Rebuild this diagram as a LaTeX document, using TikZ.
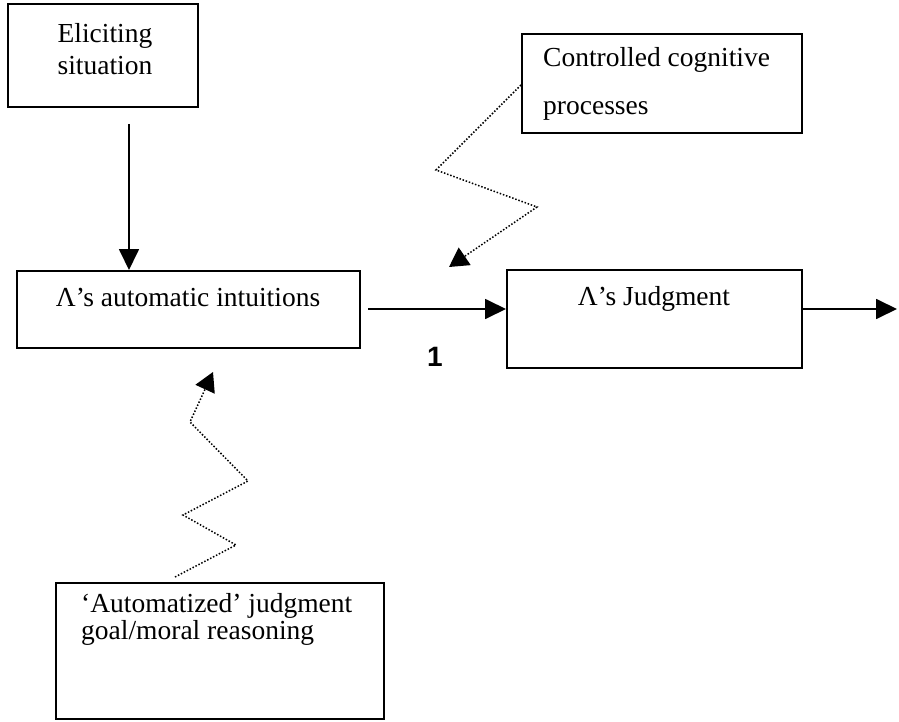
\documentclass[tikz,border=0pt]{standalone}
\usepackage{fontspec}
\setmainfont{Liberation Serif}
\newfontfamily\numfont{Liberation Sans}
\usetikzlibrary{arrows.meta}
\begin{document}
\begin{tikzpicture}[x=1pt,y=-1pt,
  box/.style={draw, line width=2pt, inner sep=0pt, anchor=north west},
  txt/.style={font=\fontsize{27.5}{32}\selectfont, inner sep=0pt},
  flow/.style={line width=1.8pt, -{Triangle[length=21pt,width=20pt]}},
  influence/.style={line width=1.5pt, dash pattern=on 1.5pt off 1.8pt,
    -{Triangle[length=19pt,width=21pt]}}]

\fill[white] (0,0) rectangle (899,722);
\useasboundingbox (0,0) rectangle (899,722);

% boxes
\node[box, minimum width=190pt, minimum height=103pt] (elicit) at (7,3) {};
\node[box, minimum width=343pt, minimum height=77pt]  (intu)   at (16,270) {};
\node[box, minimum width=295pt, minimum height=98pt]  (judg)   at (506,269) {};
\node[box, minimum width=280pt, minimum height=99pt]  (ctrl)   at (521,33) {};
\node[box, minimum width=328pt, minimum height=136pt] (autom)  at (55,582) {};

% texts
\node[txt, anchor=base] (elicitA) at (105,43) {Eliciting};
\node[txt, anchor=base] (elicitB) at (105,75) {situation};
\node[txt, anchor=base] (intuT) at (188,306) {Λ’s automatic intuitions};
\node[txt, anchor=base] (judgT) at (654,305) {Λ’s Judgment};
\node[txt, anchor=base west] (ctrlA) at (543,67) {Controlled cognitive};
\node[txt, anchor=base west] (ctrlB) at (543,115) {processes};
\node[txt, anchor=base west] (automA) at (81,612) {‘Automatized’ judgment};
\node[txt, anchor=base west] (automB) at (81,639) {goal/moral reasoning};
\node[inner sep=0pt, anchor=base, font=\numfont\bfseries\fontsize{28}{32}\selectfont] (one) at (435,366) {1};

% solid flow arrows
\coordinate (a1) at (129,124);
\draw[flow] (a1) -- (a1 |- intu.north);
\coordinate (a2) at (368,309);
\draw[flow] (a2) -- (a2 -| judg.west);
\coordinate (out) at (897,309);
\draw[flow] (out -| judg.east) -- (out);

% dotted zigzag influences
\coordinate (c0) at (521,85);
\coordinate (c1) at (436,170);
\coordinate (c2) at (537,207);
\coordinate (c3) at (449,267);
\draw[influence] (c0) -- (c1) -- (c2) -- (c3);

\coordinate (d0) at (175,577);
\coordinate (d1) at (236,545);
\coordinate (d2) at (183,515);
\coordinate (d3) at (248,481);
\coordinate (d4) at (190,422);
\coordinate (d5) at (213,372);
\draw[influence] (d0) -- (d1) -- (d2) -- (d3) -- (d4) -- (d5);
\end{tikzpicture}
\end{document}
